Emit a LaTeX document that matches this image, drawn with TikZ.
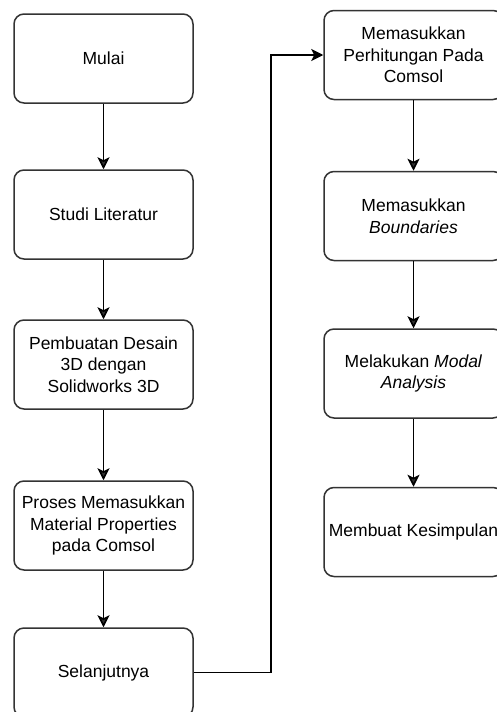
\documentclass[tikz,border=0pt]{standalone}
\usepackage{fontspec}
\setmainfont{Liberation Sans}
\usepackage{tikz}
\usetikzlibrary{arrows.meta, positioning}

\begin{document}
\begin{tikzpicture} [x=1pt, y=1pt,
            draw=black!80,
            on grid,
            box/.style = {draw=black!80, line width=1.5pt,
                rounded corners=10pt,
                minimum width=179pt, minimum height=89pt,
                align=center, inner sep=2pt,
                font=\fontsize{17.5}{21.7}\selectfont},
            arrow/.style = {-{Stealth[length=12pt, width=12pt, inset=3pt]},
                line width=1.6pt, draw=black}]

            \useasboundingbox (0,0) rectangle (496,-712);

            % Box mulai
            \node (mulai) [box] at (103.5,-58.5) {Mulai};

            % Box studi
            \node (studi) [box,
                below = 156pt of mulai] {Studi Literatur};

            % Box desain
            \node (desain) [box,
                below = 150pt of studi] {Pembuatan Desain\\3D dengan\\Solidworks 3D};

            % Box material
            \node (material) [box,
                below = 161pt of desain] {Proses Memasukkan\\Material Properties\\pada Comsol};

            % Box selanjutnya
            \node (lanjut) [box,
                below = 147pt of material] {Selanjutnya};

            % Box perhitungan
            \node (hitung) [box] at (413.5,-55) {Memasukkan\\Perhitungan Pada\\Comsol};

            % Box boundaries
            \node (batas) [box,
                below = 161pt of hitung] {Memasukkan\\\textit{Boundaries}};

            % Box modal
            \node (modal) [box,
                below = 157.5pt of batas] {Melakukan \textit{Modal}\\\textit{Analysis}};

            % Box kesimpulan
            \node (simpul) [box,
                below = 158.5pt of modal] {Membuat Kesimpulan};

            % Arrows
            \path [arrow]
                (mulai)    edge (studi)
                (studi)    edge (desain)
                (desain)   edge (material)
                (material) edge (lanjut)

                (hitung)   edge (batas)
                (batas)    edge (modal)
                (modal)    edge (simpul);

            \draw [arrow] (lanjut.east) -- ++(77,0) |- (hitung.west);
        \end{tikzpicture}
\end{document}
